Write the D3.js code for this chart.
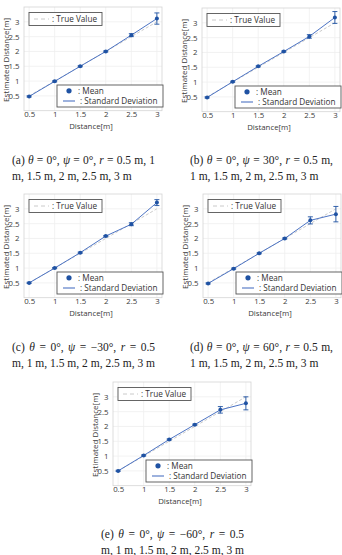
<!DOCTYPE html>
<html><head><meta charset="utf-8">
<script src="https://cdn.jsdelivr.net/npm/d3@7"></script>
<style>html,body{margin:0;padding:0;background:#fff}svg{display:block}</style>
</head><body>
<svg id="c" width="342" height="555"></svg>
<script>
// ---- data ----
const distances = [0.5, 1, 1.5, 2, 2.5, 3];
const trueValue = [0.5, 1, 1.5, 2, 2.5, 3];
const xTicks = [0.5, 1, 1.5, 2, 2.5, 3];
const yTicks = [0.5, 1, 1.5, 2, 2.5, 3];
const xTickLabels = ["0.5", "1", "1.5", "2", "2.5", "3"];
const yTickLabels = ["0.5", "1", "1.5", "2", "2.5", "3"];

const meanA = [0.48, 0.99, 1.50, 2.00, 2.55, 3.11];
const sdA   = [0.02, 0.02, 0.02, 0.02, 0.05, 0.19];
const meanB = [0.48, 1.01, 1.53, 2.03, 2.54, 3.18];
const sdB   = [0.02, 0.02, 0.02, 0.02, 0.06, 0.20];
const meanC = [0.50, 1.00, 1.52, 2.08, 2.48, 3.21];
const sdC   = [0.02, 0.02, 0.02, 0.02, 0.05, 0.10];
const meanD = [0.48, 0.98, 1.50, 2.00, 2.61, 2.82];
const sdD   = [0.02, 0.02, 0.02, 0.02, 0.12, 0.26];
const meanE = [0.50, 1.02, 1.56, 2.06, 2.56, 2.78];
const sdE   = [0.02, 0.02, 0.02, 0.02, 0.11, 0.22];

const legendTrue = ": True Value";
const legendMean = ": Mean";
const legendSD = ": Standard Deviation";
const xLabel = "Distance[m]";
const yLabel = "Estimated Distance[m]";

// caption tokens: [text, italic]
const captions = [
  [[["(a)",0],["θ",1],["=",0],["0°,",0],["ψ",1],["=",0],["0°,",0],["r",1],["=",0],["0.5",0],["m,",0],["1",0]],
   [["m,",0],["1.5",0],["m,",0],["2",0],["m,",0],["2.5",0],["m,",0],["3",0],["m",0]]],
  [[["(b)",0],["θ",1],["=",0],["0°,",0],["ψ",1],["=",0],["30°,",0],["r",1],["=",0],["0.5",0],["m,",0]],
   [["1",0],["m,",0],["1.5",0],["m,",0],["2",0],["m,",0],["2.5",0],["m,",0],["3",0],["m",0]]],
  [[["(c)",0],["θ",1],["=",0],["0°,",0],["ψ",1],["=",0],["−30°,",0],["r",1],["=",0],["0.5",0]],
   [["m,",0],["1",0],["m,",0],["1.5",0],["m,",0],["2",0],["m,",0],["2.5",0],["m,",0],["3",0],["m",0]]],
  [[["(d)",0],["θ",1],["=",0],["0°,",0],["ψ",1],["=",0],["60°,",0],["r",1],["=",0],["0.5",0],["m,",0]],
   [["1",0],["m,",0],["1.5",0],["m,",0],["2",0],["m,",0],["2.5",0],["m,",0],["3",0],["m",0]]],
  [[["(e)",0],["θ",1],["=",0],["0°,",0],["ψ",1],["=",0],["−60°,",0],["r",1],["=",0],["0.5",0]],
   [["m,",0],["1",0],["m,",0],["1.5",0],["m,",0],["2",0],["m,",0],["2.5",0],["m,",0],["3",0],["m",0]]]
];
const captionJustify = [[true,false],[true,false],[true,true],[true,false],[true,true]];

const panels = [
  {mean: meanA, sd: sdA, ox: 0,   oy: 0,   cx: 12,  cy: 164},
  {mean: meanB, sd: sdB, ox: 178, oy: 1,   cx: 190, cy: 164},
  {mean: meanC, sd: sdC, ox: 0,   oy: 187, cx: 12,  cy: 351},
  {mean: meanD, sd: sdD, ox: 179, oy: 187, cx: 190, cy: 351},
  {mean: meanE, sd: sdE, ox: 89,  oy: 375, cx: 101, cy: 538}
];

const svg = d3.select("#c");
const tickFont = "'Open Sans', 'Noto Sans', sans-serif";
const blueDark = "#1f52a3";
const blueLine = "#4d74c4";
const textCol = "#3a3a3a";

const L = 24, R = 162, T = 7, B = 110.7;
const x = d3.scaleLinear().domain([0.4, 3.1]).range([L, R]);
const y = d3.scaleLinear().domain([0, 3.5]).range([B, T]);

panels.forEach((p, pi) => {
  const g = svg.append("g").attr("transform", `translate(${p.ox},${p.oy})`);
  // grid
  g.append("g").selectAll("line").data(xTicks).join("line")
    .attr("x1", d => x(d)).attr("x2", d => x(d)).attr("y1", T).attr("y2", B)
    .attr("stroke", "#efefef").attr("stroke-width", 0.8);
  g.append("g").selectAll("line").data(yTicks).join("line")
    .attr("x1", L).attr("x2", R).attr("y1", d => y(d)).attr("y2", d => y(d))
    .attr("stroke", "#efefef").attr("stroke-width", 0.8);
  // frame
  g.append("rect").attr("x", L).attr("y", T).attr("width", R - L).attr("height", B - T)
    .attr("fill", "none").attr("stroke", "#d4d4d4").attr("stroke-width", 0.8);

  // axes tick labels via d3 axis
  const xa = g.append("g").attr("transform", `translate(0,${B})`)
    .call(d3.axisBottom(x).tickValues(xTicks).tickFormat((d, i) => xTickLabels[i]).tickSize(0).tickPadding(1));
  xa.select(".domain").remove();
  xa.selectAll("text").attr("font-family", tickFont).attr("font-size", 7.8).attr("fill", textCol);
  const ya = g.append("g").attr("transform", `translate(${L},0)`)
    .call(d3.axisLeft(y).tickValues(yTicks).tickFormat((d, i) => yTickLabels[i]).tickSize(0).tickPadding(4.5));
  ya.select(".domain").remove();
  ya.selectAll("text").attr("font-family", tickFont).attr("font-size", 7.8).attr("fill", textCol);

  g.append("text").attr("x", (L + R) / 2 - 2).attr("y", 129).attr("text-anchor", "middle")
    .attr("font-family", tickFont).attr("font-size", 7.8).attr("fill", textCol).text(xLabel);
  g.append("text").attr("transform", `translate(8.5,${(T + B) / 2 + 1}) rotate(-90)`).attr("text-anchor", "middle")
    .attr("font-family", tickFont).attr("font-size", 8).attr("fill", textCol).text(yLabel);

  // true value line
  g.append("path").datum(distances.map((d, i) => [d, trueValue[i]]))
    .attr("d", d3.line().x(d => x(d[0])).y(d => y(d[1])))
    .attr("fill", "none").attr("stroke", "#c4c4c4").attr("stroke-width", 0.9).attr("stroke-dasharray", "3,2");
  // mean line
  g.append("path").datum(distances.map((d, i) => [d, p.mean[i]]))
    .attr("d", d3.line().x(d => x(d[0])).y(d => y(d[1])))
    .attr("fill", "none").attr("stroke", blueLine).attr("stroke-width", 1);
  // error bars
  const eb = g.append("g").attr("stroke", blueDark).attr("stroke-width", 0.9);
  distances.forEach((d, i) => {
    const xx = x(d), y1 = y(p.mean[i] + p.sd[i]), y2 = y(p.mean[i] - p.sd[i]);
    eb.append("line").attr("x1", xx).attr("x2", xx).attr("y1", y1).attr("y2", y2);
    eb.append("line").attr("x1", xx - 2.5).attr("x2", xx + 2.5).attr("y1", y1).attr("y2", y1);
    eb.append("line").attr("x1", xx - 2.5).attr("x2", xx + 2.5).attr("y1", y2).attr("y2", y2);
  });
  g.append("g").selectAll("circle").data(distances).join("circle")
    .attr("cx", d => x(d)).attr("cy", (d, i) => y(p.mean[i])).attr("r", 2)
    .attr("fill", blueDark);

  // legend 1
  g.append("rect").attr("x", 29).attr("y", 12.5).attr("width", 73).attr("height", 13)
    .attr("fill", "#fff").attr("stroke", "#555").attr("stroke-width", 0.9);
  g.append("line").attr("x1", 34).attr("x2", 49).attr("y1", 19).attr("y2", 19)
    .attr("stroke", "#c4c4c4").attr("stroke-width", 0.9).attr("stroke-dasharray", "4,3");
  g.append("text").attr("x", 52).attr("y", 22).attr("font-family", tickFont).attr("font-size", 8.2)
    .attr("fill", "#333").text(legendTrue);
  // legend 2
  g.append("rect").attr("x", 57).attr("y", 85).attr("width", 106).attr("height", 22)
    .attr("fill", "#fff").attr("stroke", "#555").attr("stroke-width", 0.9);
  g.append("circle").attr("cx", 69).attr("cy", 90.8).attr("r", 2.6).attr("fill", blueDark);
  g.append("text").attr("x", 78).attr("y", 93.6).attr("font-family", tickFont).attr("font-size", 8.2)
    .attr("fill", "#333").text(legendMean);
  g.append("line").attr("x1", 63).attr("x2", 75).attr("y1", 101).attr("y2", 101)
    .attr("stroke", blueLine).attr("stroke-width", 1.1);
  g.append("text").attr("x", 80).attr("y", 103.8).attr("font-family", tickFont).attr("font-size", 8.2)
    .attr("fill", "#333").text(legendSD);

  // caption
  const colW = 143;
  captions[pi].forEach((tokens, li) => {
    const t = svg.append("text").attr("y", p.cy + li * 15.5)
      .attr("font-family", "'Liberation Serif', 'Times New Roman', serif").attr("font-size", 11.5).attr("fill", "#222");
    const spans = tokens.map(tk => t.append("tspan").attr("font-style", tk[1] ? "italic" : "normal").text(tk[0]));
    const widths = spans.map(s => s.node().getComputedTextLength());
    const total = d3.sum(widths);
    const gap = captionJustify[pi][li] ? (colW - total) / (tokens.length - 1) : 2.9;
    let cx = p.cx;
    spans.forEach((s, k) => { s.attr("x", cx); cx += widths[k] + gap; });
  });
});
</script>
</body></html>
